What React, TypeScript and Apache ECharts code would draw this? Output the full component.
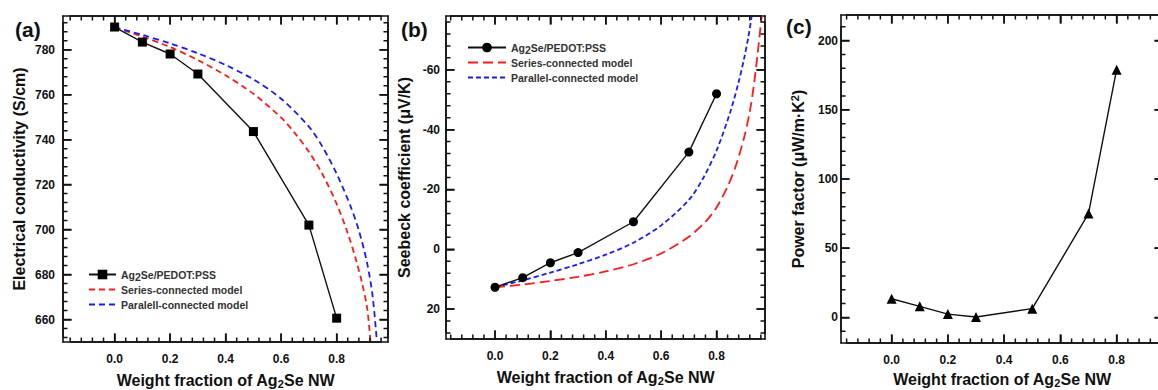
import React, { useEffect, useRef } from 'react';
import * as echarts from 'echarts';

// ---------- data ----------
const fraction = [0, 0.1, 0.2, 0.3, 0.5, 0.7, 0.8];
const conductivity = [790.1, 783.4, 778.1, 769.2, 743.6, 702.0, 660.6];
const seebeck = [12.7, 9.5, 4.5, 1.1, -9.2, -32.5, -52.0];
const powerFactor = [13.5, 8.0, 2.4, 0.3, 6.3, 75.0, 179.0];

const seriesModelA: [number, number][] = [
  [0, 790], [0.1, 785.8], [0.2, 781.2], [0.3, 775.4], [0.4, 768.6], [0.5, 760.4],
  [0.6, 749.8], [0.65, 742.8], [0.7, 734.6], [0.75, 724.4], [0.8, 711.4], [0.84, 698.4],
  [0.87, 686.4], [0.89, 677], [0.91, 665], [0.922, 650],
];
const parallelModelA: [number, number][] = [
  [0, 790], [0.1, 786.6], [0.2, 782.8], [0.3, 778.4], [0.4, 773.2], [0.5, 766.8],
  [0.6, 758.2], [0.7, 745.8], [0.75, 736.6], [0.8, 724.8], [0.85, 710.4], [0.88, 699.6],
  [0.91, 685], [0.93, 670], [0.945, 650],
];
const seriesModelB: [number, number][] = [
  [0, 12.7], [0.1, 11.8], [0.2, 10.6], [0.3, 9.2], [0.4, 7.4], [0.5, 5.0], [0.6, 1.4],
  [0.7, -4.2], [0.76, -9.2], [0.8, -14], [0.84, -21], [0.87, -28], [0.9, -37.5],
  [0.92, -46], [0.935, -55], [0.948, -65], [0.963, -78],
];
const parallelModelB: [number, number][] = [
  [0, 12.7], [0.1, 10.4], [0.2, 7.8], [0.3, 5.0], [0.4, 1.8], [0.5, -2.2], [0.6, -8],
  [0.7, -16.5], [0.75, -23.5], [0.8, -33], [0.85, -46], [0.88, -56], [0.9, -64],
  [0.915, -71], [0.927, -78],
];

const xTickLabels = [0, 0.2, 0.4, 0.6, 0.8];
const yTicksA = [660, 680, 700, 720, 740, 760, 780];
const yTicksB = [-60, -40, -20, 0, 20];
const yTicksC = [0, 50, 100, 150, 200];

const legendNames: Record<string, string> = {
  compA: 'Ag{sub|2}Se/PEDOT:PSS',
  serA: 'Series-connected model',
  parA: 'Paralell-connected model',
  compB: 'Ag{sub|2}Se/PEDOT:PSS',
  serB: 'Series-connected model',
  parB: 'Parallel-connected model',
};

// ---------- layout ----------
type Panel = {
  L: number; T: number; W: number; H: number;
  xMin: number; xMax: number; yMin: number; yMax: number; inverse: boolean;
  yLabels: number[]; yMajor: number; yMinor: number;
  yName: string; yNameGap: number; yLabelMargin: number; xNameGap: number;
};

const panels: Panel[] = [
  {
    L: 63, T: 16, W: 325, H: 326, xMin: -0.186, xMax: 0.985, yMin: 650, yMax: 795, inverse: false,
    yLabels: yTicksA, yMajor: 20, yMinor: 4, yName: 'Electrical conductivity (S/cm)',
    yNameGap: 35, yLabelMargin: 8, xNameGap: 29,
  },
  {
    L: 446, T: 16, W: 319, H: 323, xMin: -0.177, xMax: 0.975, yMin: -78, yMax: 30, inverse: true,
    yLabels: yTicksB, yMajor: 20, yMinor: 4, yName: 'Seebeck coefficient (μV/K)',
    yNameGap: 33, yLabelMargin: 6, xNameGap: 29,
  },
  {
    L: 841, T: 15, W: 322, H: 328, xMin: -0.18, xMax: 0.965, yMin: -18.5, yMax: 218.5, inverse: false,
    yLabels: yTicksC, yMajor: 50, yMinor: 10, yName: 'Power factor (μW/m·K{sup|2})',
    yNameGap: 34, yLabelMargin: 3, xNameGap: 27,
  },
];

const X_MINOR = 0.04;
const X_MAJOR = 0.2;
const MINOR_LEN = 4.5;
const MAJOR_LEN = 8.5;
const TICK_WIDTH = 1.5;

// ---------- styling ----------
const FONT = '"Liberation Sans", Arial, sans-serif';
const INK = '#111';
const RED = '#ff1a1a';
const BLUE = '#1a1aff';

const frameLine = { show: true, onZero: false, lineStyle: { color: INK, width: 1.6 } };

const nameStyle = {
  fontFamily: FONT,
  fontSize: 16,
  fontWeight: 'bold',
  color: INK,
  lineHeight: 18,
  rich: {
    sub: { fontFamily: FONT, fontSize: 11, fontWeight: 'bold', color: INK, verticalAlign: 'bottom', lineHeight: 9 },
    sup: { fontFamily: FONT, fontSize: 11, fontWeight: 'bold', color: INK, verticalAlign: 'top', lineHeight: 9 },
  },
};
const labelStyle = { fontFamily: FONT, fontSize: 12, fontWeight: 'bold', color: INK };

const legendText = {
  fontFamily: FONT,
  fontSize: 10.5,
  fontWeight: 'bold',
  color: '#333',
  lineHeight: 15,
  rich: {
    sub: { fontFamily: FONT, fontSize: 10.5, fontWeight: 'bold', color: '#333', verticalAlign: 'bottom', lineHeight: 9 },
  },
};
const hiddenSymbol = { opacity: 0, color: 'rgba(0,0,0,0)', borderWidth: 0 };

function pairs(xs: number[], ys: number[]): [number, number][] {
  return xs.map((x, i) => [x, ys[i]]);
}

function ticksBetween(min: number, max: number, step: number): number[] {
  const out: number[] = [];
  const start = Math.ceil(min / step - 1e-9);
  for (let k = start; k * step <= max + 1e-9; k++) out.push(+(k * step).toFixed(6));
  return out;
}

function nativeTick(values: number[]) {
  return {
    show: true, inside: true, length: MAJOR_LEN, customValues: values,
    lineStyle: { color: INK, width: TICK_WIDTH, opacity: 1 },
  };
}

function buildAxes() {
  const grids: any[] = [];
  const xAxes: any[] = [];
  const yAxes: any[] = [];
  panels.forEach((p, i) => {
    grids.push({ left: p.L, top: p.T, width: p.W, height: p.H, outerBoundsMode: 'none', containLabel: false });
    const xMaj = ticksBetween(p.xMin, p.xMax, X_MAJOR);
    const yMaj = ticksBetween(p.yMin, p.yMax, p.yMajor);
    const xb = { type: 'value', gridIndex: i, min: p.xMin, max: p.xMax, splitLine: { show: false }, axisTick: nativeTick(xMaj) };
    xAxes.push({
      ...xb, position: 'bottom', axisLine: frameLine,
      axisLabel: { show: true, customValues: xTickLabels, formatter: (v: number) => v.toFixed(1), margin: 11, ...labelStyle },
      name: 'Weight fraction of Ag{sub|2}Se NW', nameLocation: 'middle', nameGap: p.xNameGap, nameTextStyle: nameStyle,
    });
    xAxes.push({ ...xb, position: 'top', axisLine: frameLine, axisLabel: { show: false } });
    const yb = { type: 'value', gridIndex: i, min: p.yMin, max: p.yMax, inverse: p.inverse, splitLine: { show: false }, axisTick: nativeTick(yMaj) };
    yAxes.push({
      ...yb, position: 'left', axisLine: frameLine,
      axisLabel: { show: true, customValues: p.yLabels, margin: p.yLabelMargin, ...labelStyle },
      name: p.yName, nameLocation: 'middle', nameGap: p.yNameGap, nameTextStyle: nameStyle,
    });
    yAxes.push({ ...yb, position: 'right', axisLine: frameLine, axisLabel: { show: false } });
  });
  return { grids, xAxes, yAxes };
}

// inward tick combs along the four frame sides, as plain line series in the panel's own scales
function tickCombs(p: Panel, i: number) {
  const kx = p.W / (p.xMax - p.xMin);
  const ky = p.H / (p.yMax - p.yMin);
  const bottomVal = p.inverse ? p.yMax : p.yMin;
  const topVal = p.inverse ? p.yMin : p.yMax;
  const upSign = Math.sign(topVal - bottomVal);
  const xMajors = new Set(ticksBetween(p.xMin, p.xMax, X_MAJOR));
  const yMajors = new Set(ticksBetween(p.yMin, p.yMax, p.yMajor));
  const xs = ticksBetween(p.xMin, p.xMax, X_MINOR);
  const ys = ticksBetween(p.yMin, p.yMax, p.yMinor);
  const xLen = (v: number) => (xMajors.has(v) ? MAJOR_LEN : MINOR_LEN) / ky;
  const yLen = (v: number) => (yMajors.has(v) ? MAJOR_LEN : MINOR_LEN) / kx;

  const bottom: [number, number][] = [];
  const top: [number, number][] = [];
  xs.forEach((v) => {
    bottom.push([v, bottomVal], [v, bottomVal + upSign * xLen(v)], [v, bottomVal]);
    top.push([v, topVal], [v, topVal - upSign * xLen(v)], [v, topVal]);
  });
  const left: [number, number][] = [];
  const right: [number, number][] = [];
  ys.forEach((v) => {
    left.push([p.xMin, v], [p.xMin + yLen(v), v], [p.xMin, v]);
    right.push([p.xMax, v], [p.xMax - yLen(v), v], [p.xMax, v]);
  });

  return [bottom, top, left, right].map((data, k) => ({
    type: 'line', name: `ticks${i}_${k}`, xAxisIndex: i * 2, yAxisIndex: i * 2, data,
    symbol: 'none', showSymbol: false, clip: false, silent: true, z: 5, smooth: false,
    sampling: undefined, legendHoverLink: false,
    lineStyle: { color: INK, width: TICK_WIDTH, type: 'solid', cap: 'butt', join: 'miter' },
    itemStyle: { color: INK },
  }));
}

export default function App() {
  const ref = useRef<HTMLDivElement>(null);

  useEffect(() => {
    if (!ref.current) return;
    const chart = echarts.init(ref.current, undefined, { renderer: 'svg' });
    const { grids, xAxes, yAxes } = buildAxes();

    const option: any = {
      animation: false,
      backgroundColor: '#ffffff',
      grid: grids,
      xAxis: xAxes,
      yAxis: yAxes,
      legend: [
        {
          data: ['compA', { name: 'serA', itemStyle: hiddenSymbol }, { name: 'parA', itemStyle: hiddenSymbol }],
          left: 88, top: 267, orient: 'vertical', padding: 0,
          itemWidth: 27, itemHeight: 12, itemGap: 0, selectedMode: false,
          formatter: (n: string) => legendNames[n], textStyle: legendText,
        },
        {
          data: ['compB', { name: 'serB', itemStyle: hiddenSymbol }, { name: 'parB', itemStyle: hiddenSymbol }],
          left: 467, top: 40, orient: 'vertical', padding: 0,
          itemWidth: 38, itemHeight: 12, itemGap: 0, selectedMode: false,
          formatter: (n: string) => legendNames[n], textStyle: legendText,
        },
      ],
      graphic: [
        { type: 'text', left: 15, top: 19, style: { text: '(a)', font: `bold 21px ${FONT}`, fill: INK } },
        { type: 'text', left: 401, top: 19, style: { text: '(b)', font: `bold 21px ${FONT}`, fill: INK } },
        { type: 'text', left: 786, top: 16, style: { text: '(c)', font: `bold 21px ${FONT}`, fill: INK } },
      ],
      series: [
        ...panels.flatMap((p, i) => tickCombs(p, i)),
        {
          name: 'serA', type: 'line', xAxisIndex: 0, yAxisIndex: 0, data: seriesModelA,
          showSymbol: false, symbol: 'none', smooth: 0.3,
          lineStyle: { color: RED, width: 1.8, type: [6, 4] }, itemStyle: { color: RED },
        },
        {
          name: 'parA', type: 'line', xAxisIndex: 0, yAxisIndex: 0, data: parallelModelA,
          showSymbol: false, symbol: 'none', smooth: 0.3,
          lineStyle: { color: BLUE, width: 1.8, type: [6, 4] }, itemStyle: { color: BLUE },
        },
        {
          name: 'compA', type: 'line', xAxisIndex: 0, yAxisIndex: 0, data: pairs(fraction, conductivity),
          symbol: 'rect', symbolSize: 9, lineStyle: { color: INK, width: 1.4 },
          itemStyle: { color: '#000' },
        },
        {
          name: 'serB', type: 'line', xAxisIndex: 2, yAxisIndex: 2, data: seriesModelB,
          showSymbol: false, symbol: 'none', smooth: 0.3,
          lineStyle: { color: RED, width: 1.8, type: [10, 5] }, itemStyle: { color: RED },
        },
        {
          name: 'parB', type: 'line', xAxisIndex: 2, yAxisIndex: 2, data: parallelModelB,
          showSymbol: false, symbol: 'none', smooth: 0.3,
          lineStyle: { color: BLUE, width: 1.8, type: [5, 3] }, itemStyle: { color: BLUE },
        },
        {
          name: 'compB', type: 'line', xAxisIndex: 2, yAxisIndex: 2, data: pairs(fraction, seebeck),
          symbol: 'circle', symbolSize: 9, lineStyle: { color: INK, width: 1.4 },
          itemStyle: { color: '#000' },
        },
        {
          name: 'pf', type: 'line', xAxisIndex: 4, yAxisIndex: 4, data: pairs(fraction, powerFactor),
          symbol: 'triangle', symbolSize: 10, lineStyle: { color: INK, width: 1.4 },
          itemStyle: { color: '#000' },
        },
      ],
    };

    chart.setOption(option);
    return () => chart.dispose();
  }, []);

  return (
    <div
      ref={ref}
      style={{ position: 'fixed', left: 0, top: 0, width: 1158, height: 390, background: '#fff' }}
    />
  );
}
